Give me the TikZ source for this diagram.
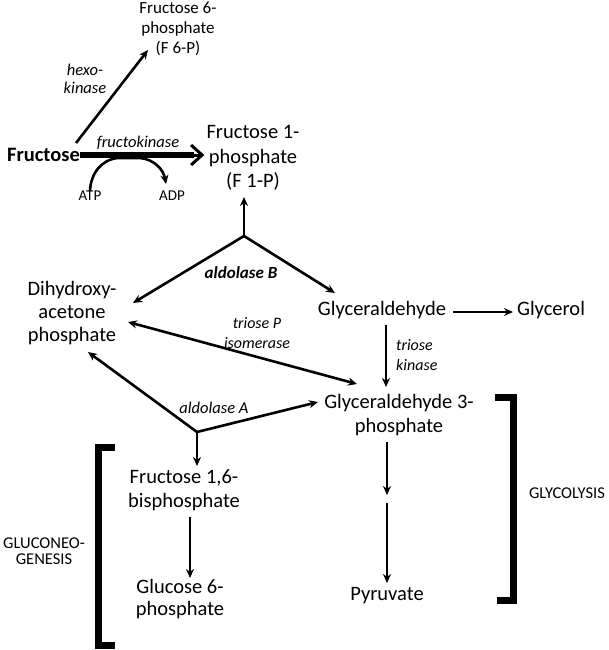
\documentclass[tikz,border=0pt]{standalone}
\usepackage{fontspec}
\setmainfont{Carlito}
\usetikzlibrary{arrows.meta}
\newcommand{\Fs}[2]{\fontsize{#1}{#2}\selectfont}
\begin{document}
\begin{tikzpicture}[x=1pt,y=-1pt,
  met/.style={align=center,inner sep=0pt,font=\Fs{20.5}{24.5}},
  enz/.style={align=center,inner sep=0pt,font=\Fs{16.5}{19.5}\itshape},
  small/.style={inner sep=0pt,font=\Fs{15}{17}},
  caps/.style={align=center,inner sep=0pt,font=\Fs{16.5}{16.5}},
  arr/.style={line width=2.6pt,-{Stealth[length=9pt,width=8pt]}},
  brk/.style={line width=7pt}]
\useasboundingbox (0,0) rectangle (609,650);

% metabolites
\node[met,font=\Fs{17}{20}] (f6p) at (178,29) {Fructose 6-\\phosphate\\(F 6-P)};
\node[met] (fru) at (43.5,155) {\bfseries Fructose};
\node[met] (f1p) at (253,158) {Fructose 1-\\phosphate\\(F 1-P)};
\node[small] (atp) at (90,196) {ATP};
\node[small] (adp) at (172,196) {ADP};
\node[met,font=\Fs{20.5}{23}] (dhap) at (72,313) {Dihydroxy-\\acetone\\phosphate};
\node[met] (ga) at (382,310) {Glyceraldehyde};
\node[met] (gol) at (551,310) {Glycerol};
\node[met] (ga3p) at (399,415) {Glyceraldehyde 3-\\phosphate};
\node[met] (f16) at (184,490) {Fructose 1,6-\\bisphosphate};
\node[met,font=\Fs{20.5}{22}] (g6p) at (180,599) {Glucose 6-\\phosphate};
\node[met] (pyr) at (387,596) {Pyruvate};

% enzyme labels
\node[enz,font=\Fs{16.5}{18}\itshape] (hexo) at (85,79) {hexo-\\kinase};
\node[enz] (fk) at (138,143) {fructokinase};
\node[enz,font=\Fs{17}{20}\bfseries\itshape] (aldB) at (241,273) {aldolase B};
\node[enz,font=\Fs{16}{20}\itshape] (tpi) at (257,333) {triose P\\isomerase};
\node[enz,font=\Fs{16}{20}\itshape,align=left,anchor=west] (tk) at (396,355) {triose\\kinase};
\node[enz] (aldA) at (214,408) {aldolase A};
\node[caps] (gng) at (44,551) {GLUCONEO-\\GENESIS};
\node[caps] (gly) at (567,493) {GLYCOLYSIS};

% junctions and arrow ends
\coordinate (jB) at (244,236);
\coordinate (jA) at (197,432);
\coordinate (f1pB) at (244,197);
\coordinate (f6pT) at (148,50);
\coordinate (fruH) at (76,143);
\coordinate (dhapB) at (133,303);
\coordinate (gaB) at (335,293);
\coordinate (dhapI) at (128,322);
\coordinate (ga3pI) at (357,384);
\coordinate (dhapA) at (88,352);
\coordinate (ga3pA) at (318,402);
\coordinate (f16T) at (197,466);
\coordinate (gaS) at (386,325);
\coordinate (ga3pT) at (386,387);
\coordinate (ga3pS) at (387,442);
\coordinate (midG) at (387,495);
\coordinate (midG2) at (387,503);
\coordinate (pyrT) at (387,583);
\coordinate (f16S) at (190,517);
\coordinate (g6pT) at (190,578);
\coordinate (adpT) at (166,184);
\coordinate (gaE) at (453,312);
\coordinate (golW) at (513,312);

% connectors
\draw[arr] (fruH) -- (f6pT);
\draw[line width=6pt] (fru.east) -- ([xshift=-12pt]fru.east -| f1p.west);
\draw[line width=3pt,-{Straight Barb[length=11pt,width=20pt,line width=3pt]}]
  ([xshift=-16pt]fru.east -| f1p.west) -- ([xshift=-2pt]fru.east -| f1p.west);
\draw[line width=2.6pt,-{Stealth[length=9pt,width=8pt]}]
  (atp.north) to[out=88,in=185] (118,158) -- (140,158) to[out=-5,in=100] (adpT);
\draw[arr] (jB) -- (f1pB);
\draw[arr] (jB) -- (dhapB);
\draw[arr] (jB) -- (gaB);
\draw[arr,{Stealth[length=9pt,width=8pt]}-{Stealth[length=9pt,width=8pt]}] (dhapI) -- (ga3pI);
\draw[arr] (gaE) -- (golW);
\draw[arr] (gaS) -- (ga3pT);
\draw[arr] (jA) -- (dhapA);
\draw[arr] (jA) -- (ga3pA);
\draw[arr] (jA) -- (f16T);
\draw[arr] (f16S) -- (g6pT);
\draw[arr] (ga3pS) -- (midG);
\draw[arr] (midG2) -- (pyrT);

% brackets
\draw[brk] (115,447) -- (98,447) -- (98,645) -- (115,645);
\draw[brk] (495,397) -- (513,397) -- (513,600) -- (497,600);
\end{tikzpicture}
\end{document}
